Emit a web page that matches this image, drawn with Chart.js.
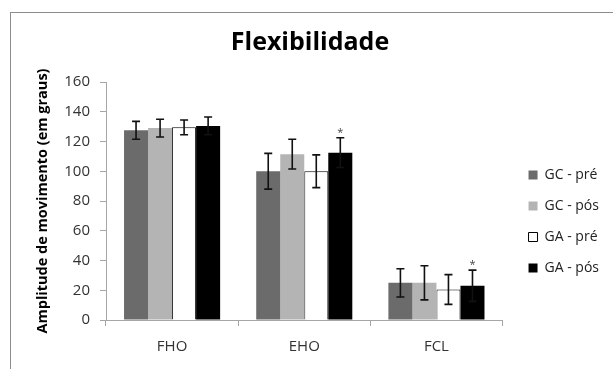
<!DOCTYPE html>
<html>
<head>
<meta charset="utf-8">
<title>Flexibilidade</title>
<script src="https://cdn.jsdelivr.net/npm/chart.js@4.4.1/dist/chart.umd.min.js"></script>
<style>
    html, body { margin: 0; padding: 0; background: #ffffff; overflow: hidden; }
    #wrap { position: relative; width: 613px; height: 369px; }
    #frame { position: absolute; left: 10px; top: 12px; width: 700px; height: 420px; border: 1px solid #8c8c8c; }
    #chart { position: absolute; left: 0; top: 0; }
</style>
</head>
<body>
<div id="wrap">
    <div id="frame"></div>
    <canvas id="chart" width="613" height="369"></canvas>
</div>
<script>
// Data
const categories = ['FHO', 'EHO', 'FCL'];
const seriesNames = ['GC - pré', 'GC - pós', 'GA - pré', 'GA - pós'];

const gcPre = [127.5, 100, 25];
const gcPos = [129, 111.5, 25];
const gaPre = [129.5, 100, 20.5];
const gaPos = [130.5, 112.5, 23];

const gcPreErr = [6, 12, 9.5];
const gcPosErr = [6, 10, 11.5];
const gaPreErr = [5, 11, 10];
const gaPosErr = [6, 10, 10.5];

// significance marks above the GA - pós bars
const gaPosMarks = ['', '*', '*'];

const yMin = 0;
const yMax = 160;
const yStep = 20;

const FONT = "'Open Sans', 'Liberation Sans', sans-serif";

/**
 * Draws error bars (and the asterisks) using the chart's own scales
 */
const errorBars = {
    id: 'errorBars',
    afterDatasetsDraw(chart) {
        const ctx = chart.ctx;
        const yScale = chart.scales.y;
        chart.data.datasets.forEach((ds, i) => {
            const meta = chart.getDatasetMeta(i);
            meta.data.forEach((bar, j) => {
                const v = ds.data[j];
                const e = ds.errors[j];
                const top = yScale.getPixelForValue(v + e);
                const bottom = yScale.getPixelForValue(v - e);
                ctx.save();
                ctx.strokeStyle = '#111111';
                ctx.lineWidth = 1.6;
                ctx.beginPath();
                ctx.moveTo(bar.x, top);
                ctx.lineTo(bar.x, bottom);
                ctx.moveTo(bar.x - 4, top);
                ctx.lineTo(bar.x + 4, top);
                ctx.moveTo(bar.x - 4, bottom);
                ctx.lineTo(bar.x + 4, bottom);
                ctx.stroke();
                if (ds.marks && ds.marks[j]) {
                    ctx.fillStyle = '#444444';
                    ctx.font = '11px ' + FONT;
                    ctx.textAlign = 'center';
                    ctx.textBaseline = 'middle';
                    ctx.fillText(ds.marks[j], bar.x, top - 5);
                }
                ctx.restore();
            });
        });
    }
};

/**
 * Nudges the legend block next to the plot, like the original
 */
const legendNudge = {
    id: 'legendNudge',
    afterLayout(chart) {
        const lg = chart.legend;
        const dx = 9, dy = 37;
        lg.left += dx; lg.right += dx;
        lg.top += dy; lg.bottom += dy;
    }
};

const ctx = document.getElementById('chart').getContext('2d');

new Chart(ctx, {
    type: 'bar',
    data: {
        labels: categories,
        datasets: [
            {
                label: seriesNames[0],
                data: gcPre,
                errors: gcPreErr,
                backgroundColor: '#6b6b6b',
                borderWidth: 0
            },
            {
                label: seriesNames[1],
                data: gcPos,
                errors: gcPosErr,
                backgroundColor: '#b4b4b4',
                borderWidth: 0
            },
            {
                label: seriesNames[2],
                data: gaPre,
                errors: gaPreErr,
                backgroundColor: '#ffffff',
                borderColor: '#000000',
                borderWidth: 1
            },
            {
                label: seriesNames[3],
                data: gaPos,
                errors: gaPosErr,
                marks: gaPosMarks,
                backgroundColor: '#000000',
                borderWidth: 0
            }
        ]
    },
    options: {
        responsive: false,
        animation: false,
        categoryPercentage: 0.727,
        barPercentage: 1.0,
        layout: {
            padding: { left: 20, right: 13, top: 0, bottom: 0 }
        },
        plugins: {
            title: {
                display: true,
                text: 'Flexibilidade',
                color: '#000000',
                font: { family: FONT, size: 25, weight: 'bold' },
                padding: { top: 28, bottom: 24 }
            },
            legend: {
                display: true,
                position: 'right',
                labels: {
                    color: '#222222',
                    font: { family: FONT, size: 14 },
                    boxWidth: 9,
                    boxHeight: 9,
                    padding: 17
                }
            },
            tooltip: { enabled: false }
        },
        scales: {
            x: {
                grid: {
                    offset: true,
                    drawOnChartArea: false,
                    tickLength: 6,
                    color: '#a6a6a6'
                },
                border: { color: '#a6a6a6' },
                ticks: {
                    color: '#333333',
                    padding: 12,
                    font: { family: FONT, size: 15 }
                },
                afterFit: (scale) => { scale.height = 49; }
            },
            y: {
                min: yMin,
                max: yMax,
                grid: {
                    drawOnChartArea: false,
                    tickLength: 6,
                    color: '#a6a6a6'
                },
                border: { color: '#a6a6a6' },
                ticks: {
                    stepSize: yStep,
                    color: '#333333',
                    padding: 10,
                    font: { family: FONT, size: 15 }
                },
                title: {
                    display: true,
                    text: 'Amplitude de movimento (em graus)',
                    color: '#000000',
                    font: { family: FONT, size: 14.5, weight: 'bold' },
                    padding: { top: 14, bottom: 0 }
                },
                afterFit: (scale) => { scale.width = 86; }
            }
        }
    },
    plugins: [errorBars, legendNudge]
});
</script>
</body>
</html>
